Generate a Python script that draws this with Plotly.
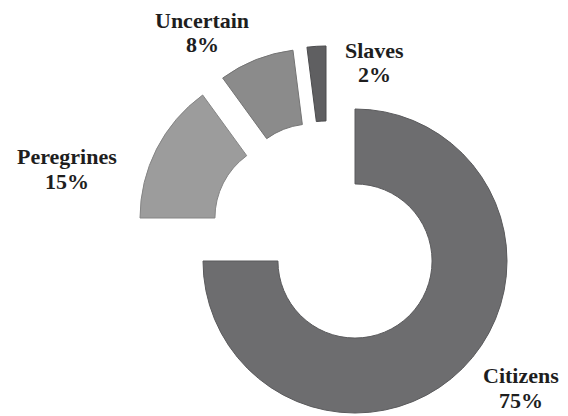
import plotly.graph_objects as go

# ---- data ----
categories = ["Citizens", "Peregrines", "Uncertain", "Slaves"]
values = [75, 15, 8, 2]
colors = ["#6d6d6f", "#9c9c9c", "#8b8b8b", "#5f5f61"]
edge_colors = ["#5a5a5c", "#858585", "#747474", "#4c4c4e"]

# ---- layout (pixel geometry of the exploded donut) ----
PAGE_OFF = 8          # default body margin of the html page
W, H = 568 - PAGE_OFF, 416 - PAGE_OFF
R = 152
HOLE = 0.507
# centre of each exploded ring piece (px from left, px from top of the window)
centres = {
    "Citizens": (355, 261),
    "Peregrines": (292, 218),
    "Uncertain": (312, 201),
    "Slaves": (326, 198),
}
# label positions: (x, y_name, y_pct) in window px
label_pos = {
    "Citizens": (521, 375, 400),
    "Peregrines": (67, 156, 181),
    "Uncertain": (202, 20, 44),
    "Slaves": (374, 51, 75),
}


def px(x, y):
    return (x - PAGE_OFF) / W, 1 - (y - PAGE_OFF) / H


fig = go.Figure()
total = sum(values)
for i, cat in enumerate(categories):
    cx, cy = centres[cat]
    fills = ["rgba(0,0,0,0)"] * len(categories)
    fills[i] = colors[i]
    lw = [0] * len(categories)
    lw[i] = 1
    lc = ["rgba(0,0,0,0)"] * len(categories)
    lc[i] = edge_colors[i]
    x0, y1 = px(cx - R, cy - R)
    x1, y0 = px(cx + R, cy + R)
    fig.add_trace(go.Pie(
        labels=categories,
        values=values,
        sort=False,
        direction="clockwise",
        rotation=0,
        hole=HOLE,
        textinfo="none",
        hoverinfo="skip",
        showlegend=False,
        marker=dict(colors=fills, line=dict(color=lc, width=lw)),
        domain=dict(x=[max(0, x0), min(1, x1)], y=[max(0, y0), min(1, y1)]),
    ))

font = dict(family="Liberation Serif", size=22, color="#1e1e1e")
for cat, v in zip(categories, values):
    x, yn, yp = label_pos[cat]
    pct = round(100 * v / total)
    ax, ayn = px(x, yn)
    _, ayp = px(x, yp)
    fig.add_annotation(x=ax, y=ayn, xref="paper", yref="paper",
                       text=f"<b>{cat}</b>", showarrow=False, font=font,
                       xanchor="center", yanchor="middle")
    fig.add_annotation(x=ax, y=ayp, xref="paper", yref="paper",
                       text=f"<b>{pct}%</b>", showarrow=False, font=font,
                       xanchor="center", yanchor="middle")

fig.update_layout(
    width=W, height=H,
    margin=dict(l=0, r=0, t=0, b=0),
    paper_bgcolor="white",
    plot_bgcolor="white",
)
fig.write_html("out.html")
